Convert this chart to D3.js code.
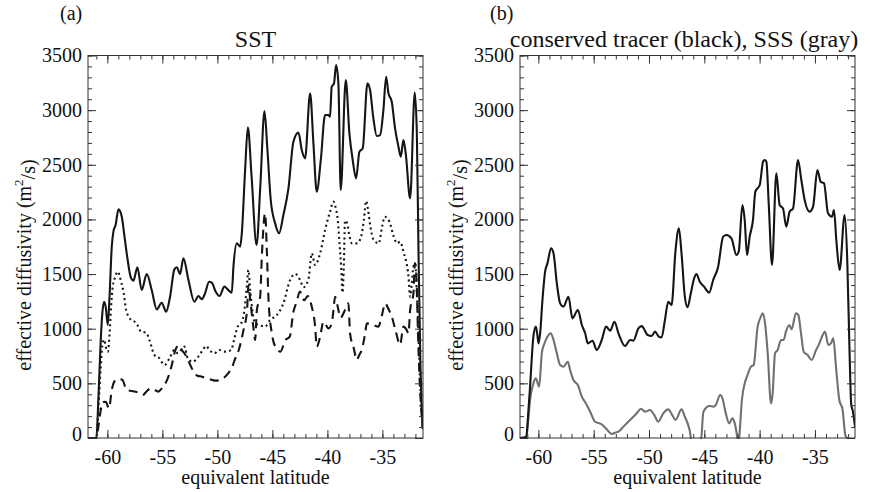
<!DOCTYPE html>
<html><head><meta charset="utf-8">
<script src="https://cdn.jsdelivr.net/npm/d3@7"></script>
<style>
html,body{margin:0;padding:0;background:#fff;}
svg text{font-family:"Liberation Serif","DejaVu Serif",serif;fill:#111;}
</style></head>
<body>
<svg id="chart" width="871" height="492"></svg>
<script>
// ---------------- DATA ----------------
const xMajorTicks = [-60,-55,-50,-45,-40,-35];
const xMinorTicks = d3.range(-61,-31,1);
const yMajorTicks = [0,500,1000,1500,2000,2500,3000,3500];
const yMinorTicks = d3.range(0,3501,100);
const panelLabels = ["(a)","(b)"];
const panelTitles = ["SST","conserved tracer (black), SSS (gray)"];
const xAxisTitle = "equivalent latitude";

// panel (a): SST, solid
const sstSolid = [[-61.75,0],[-61.0,0],[-60.8,400],[-60.6,900],[-60.45,1150],[-60.30,1247],[-60.15,1200],[-59.96,1034],[-59.8,1300],[-59.6,1750],[-59.45,1888],[-59.25,1950],[-58.99,2092],[-58.69,2025],[-58.45,1850],[-58.24,1690],[-57.84,1461],[-57.63,1440],[-57.27,1562],[-56.88,1354],[-56.42,1501],[-55.97,1354],[-55.51,1177],[-55.06,1238],[-54.66,1156],[-54.30,1293],[-53.91,1543],[-53.69,1562],[-53.39,1501],[-53.09,1644],[-52.63,1446],[-52.09,1247],[-51.72,1299],[-51.42,1270],[-51.12,1324],[-50.75,1430],[-50.51,1421],[-50.15,1339],[-49.81,1299],[-49.36,1385],[-49.06,1360],[-48.69,1330],[-48.54,1568],[-48.24,1781],[-47.93,1751],[-47.78,1873],[-47.48,2452],[-47.23,2843],[-46.89,2391],[-46.44,1766],[-46.1,2300],[-45.72,2992],[-45.45,2635],[-45.15,2178],[-44.75,1964],[-44.39,1873],[-44.0,2040],[-43.54,2284],[-43.09,2711],[-42.63,2794],[-42.33,2635],[-42.03,2559],[-41.57,3154],[-41.27,2696],[-40.97,2254],[-40.6,2544],[-40.21,2955],[-39.91,2955],[-39.76,2940],[-39.61,3214],[-39.4,3245],[-39.21,3413],[-39.0,3245],[-38.79,2269],[-38.33,3276],[-38.0,2788],[-37.7,2544],[-37.39,2376],[-37.09,2620],[-36.79,2650],[-36.36,3245],[-36.12,3184],[-35.82,2925],[-35.51,2763],[-35.21,2772],[-34.91,3001],[-34.66,3306],[-34.45,3154],[-34.15,3077],[-33.85,2834],[-33.54,2665],[-33.33,2574],[-33.09,2727],[-32.88,2605],[-32.48,2193],[-32.06,3160],[-31.87,2788],[-31.72,1720],[-31.55,700],[-31.42,250],[-31.33,80]];

// panel (a): dotted
const sstDotted = [[-61.75,0],[-61.0,0],[-60.8,300],[-60.6,650],[-60.45,850],[-60.3,900],[-60.15,836],[-59.95,790],[-59.8,950],[-59.66,1201],[-59.51,1385],[-59.3,1470],[-59.06,1522],[-58.75,1430],[-58.51,1324],[-58.30,1171],[-57.84,1080],[-57.39,1055],[-56.93,973],[-56.48,964],[-56.18,897],[-55.72,759],[-55.27,729],[-54.81,668],[-54.36,729],[-53.90,805],[-53.60,775],[-53.30,805],[-53.0,836],[-52.69,729],[-52.24,698],[-51.78,738],[-51.33,805],[-51.03,842],[-50.72,805],[-50.27,775],[-49.81,805],[-49.36,790],[-48.75,805],[-48.45,912],[-48.15,1019],[-47.84,1049],[-47.54,1171],[-47.30,1415],[-47.18,1537],[-47.0,1330],[-46.8,1150],[-46.57,1049],[-46.1,1030],[-45.66,1019],[-45.2,1080],[-44.6,1125],[-44.0,1232],[-43.39,1446],[-42.93,1501],[-42.48,1446],[-42.18,1379],[-41.72,1455],[-41.42,1690],[-41.12,1583],[-40.66,1690],[-40.21,1903],[-39.76,2071],[-39.45,2163],[-39.27,2117],[-39.06,1995],[-38.9,1781],[-38.75,1568],[-38.62,1330],[-38.5,1600],[-38.4,1990],[-38.2,1964],[-38.0,1850],[-37.76,1781],[-37.3,1781],[-36.9,1857],[-36.69,1995],[-36.48,2169],[-36.3,2086],[-36.09,1933],[-35.79,1812],[-35.33,1781],[-35.03,1933],[-34.79,2025],[-34.36,1979],[-33.97,1842],[-33.66,1781],[-33.39,1796],[-33.09,1705],[-32.63,1476],[-32.48,1293],[-32.33,1415],[-32.18,1568],[-32.03,1598],[-31.87,1324],[-31.72,958],[-31.57,500],[-31.42,226],[-31.33,100]];

// panel (a): dashed
const sstDashed = [[-61.75,0],[-61.0,0],[-60.86,73],[-60.65,226],[-60.4,330],[-60.15,332],[-59.85,271],[-59.6,439],[-59.24,531],[-58.9,540],[-58.63,531],[-58.24,439],[-57.8,430],[-57.45,424],[-57.1,410],[-56.79,393],[-56.4,430],[-56.09,454],[-55.7,440],[-55.39,424],[-55.0,460],[-54.57,531],[-54.18,653],[-53.82,805],[-53.5,850],[-53.2,800],[-52.9,760],[-52.6,698],[-52.15,607],[-51.8,570],[-51.39,561],[-51.0,545],[-50.69,537],[-50.2,525],[-49.72,531],[-49.3,560],[-48.97,598],[-48.66,650],[-48.36,732],[-48.06,805],[-47.78,915],[-47.6,1000],[-47.3,1171],[-47.18,1400],[-47.0,1250],[-46.72,1006],[-46.57,897],[-46.41,1171],[-46.11,1293],[-45.96,1659],[-45.66,2056],[-45.5,1700],[-45.35,1263],[-45.05,958],[-44.73,835],[-44.27,790],[-43.82,896],[-43.42,927],[-43.1,1150],[-42.8,1244],[-42.5,1340],[-42.1,1260],[-41.8,1300],[-41.42,1201],[-41.12,1024],[-40.97,836],[-40.66,927],[-40.36,1064],[-39.9,1003],[-39.6,1049],[-39.45,1171],[-39.3,1293],[-39.1,1220],[-38.8,1100],[-38.4,1171],[-38.09,1232],[-37.94,958],[-37.6,820],[-37.33,714],[-37.1,760],[-36.88,805],[-36.57,958],[-36.42,1049],[-35.82,1034],[-35.36,1019],[-35.05,1120],[-34.75,1232],[-34.45,1180],[-34.15,1113],[-33.8,980],[-33.39,854],[-33.09,1019],[-32.8,990],[-32.63,958],[-32.48,1171],[-32.18,1324],[-32.05,1600],[-31.9,1450],[-31.75,900],[-31.55,400],[-31.33,100]];

// panel (b): conserved tracer (black)
const tracerBlack = [[-61.66,0],[-61.1,10],[-60.9,250],[-60.75,470],[-60.45,927],[-60.23,1019],[-60.1,950],[-59.99,866],[-59.84,958],[-59.63,1263],[-59.39,1522],[-59.18,1598],[-58.85,1736],[-58.63,1690],[-58.33,1415],[-58.03,1232],[-57.73,1202],[-57.28,1293],[-56.92,1095],[-56.43,1171],[-56.07,1034],[-55.77,958],[-55.53,866],[-55.11,890],[-54.72,805],[-54.27,897],[-53.88,1019],[-53.51,982],[-53.12,1064],[-52.76,958],[-52.16,842],[-51.71,897],[-51.41,890],[-50.96,1003],[-50.66,1024],[-50.12,942],[-49.76,933],[-49.46,973],[-49.10,927],[-48.86,921],[-48.56,1080],[-48.26,1247],[-47.96,1217],[-47.6,1720],[-47.3,1918],[-47.06,1690],[-46.76,1293],[-46.52,1196],[-46.22,1324],[-45.92,1461],[-45.71,1500],[-45.41,1430],[-45.02,1385],[-44.56,1330],[-44.20,1446],[-43.75,1568],[-43.3,1842],[-43.0,1857],[-42.55,1827],[-42.1,1674],[-41.89,1705],[-41.56,2132],[-41.35,1995],[-41.14,1674],[-40.9,1842],[-40.6,1995],[-40.39,2254],[-39.99,2315],[-39.69,2528],[-39.54,2544],[-39.39,2528],[-39.18,2147],[-38.88,1583],[-38.49,2422],[-38.19,2132],[-37.89,2101],[-37.59,1934],[-37.29,2071],[-36.98,2101],[-36.53,2544],[-36.23,2361],[-35.93,2178],[-35.48,2071],[-35.17,2117],[-34.78,2452],[-34.48,2345],[-34.18,2330],[-33.82,2056],[-33.46,2025],[-33.28,2086],[-33.07,1812],[-32.77,1537],[-32.32,2040],[-32.08,1629],[-31.87,775],[-31.72,305],[-31.57,244],[-31.38,100]];

// panel (b): SSS (gray)
const sssGray = [[-61.66,0],[-61.1,0],[-60.9,180],[-60.75,348],[-60.45,500],[-60.23,546],[-59.93,470],[-59.69,775],[-59.45,866],[-59.18,927],[-58.88,958],[-58.63,897],[-58.33,775],[-58.03,668],[-57.73,653],[-57.34,698],[-57.13,622],[-56.83,531],[-56.43,485],[-56.07,378],[-55.71,317],[-55.32,241],[-54.87,149],[-54.32,128],[-53.9,88],[-53.36,37],[-53.06,49],[-52.76,58],[-52.31,104],[-51.71,165],[-51.11,226],[-50.72,268],[-50.36,241],[-49.91,256],[-49.52,210],[-49.16,149],[-48.71,226],[-48.26,262],[-47.9,210],[-47.6,165],[-47.06,262],[-46.76,195],[-46.46,119],[-46.25,27],[-46.22,0],[-45.75,-400],[-45.28,0],[-45.1,230],[-44.96,262],[-44.56,293],[-44.17,287],[-43.96,302],[-43.57,393],[-43.36,363],[-43.06,226],[-42.76,134],[-42.46,180],[-42.25,134],[-42.01,0],[-41.93,-100],[-41.85,0],[-41.6,350],[-41.31,515],[-41.15,561],[-40.78,653],[-40.54,668],[-40.18,1019],[-39.88,1110],[-39.73,1141],[-39.51,1049],[-39.27,775],[-38.97,317],[-38.82,409],[-38.61,775],[-38.37,805],[-38.07,897],[-37.83,897],[-37.62,973],[-37.32,1034],[-37.11,995],[-36.72,1141],[-36.5,1125],[-36.26,958],[-36.02,790],[-35.66,759],[-35.3,714],[-34.9,805],[-34.6,866],[-34.3,942],[-34.09,973],[-33.79,851],[-33.55,866],[-33.34,912],[-33.1,653],[-32.8,348],[-32.5,257],[-32.26,27],[-32.11,0],[-31.8,-400],[-31.38,-400]];

// ---------------- LAYOUT ----------------
const svg = d3.select("#chart");
const plotTop = 55.5, plotBottom = 438;
const panels = [
  {x0:88, x1:423, dom:[-61.76,-31.31], labelX:60, titleX:255.5,
   series:[{d:sstSolid, color:"#151515", dash:null},
           {d:sstDotted, color:"#151515", dash:"2,3.2"},
           {d:sstDashed, color:"#151515", dash:"9,6"}]},
  {x0:520, x1:855, dom:[-61.66,-31.38], labelX:490, titleX:684,
   series:[{d:sssGray, color:"#707070", dash:null},
           {d:tracerBlack, color:"#151515", dash:null}]}
];

const y = d3.scaleLinear().domain([0,3500]).range([plotBottom, plotTop]);
const defs = svg.append("defs");

panels.forEach((p,i)=>{
  const x = d3.scaleLinear().domain(p.dom).range([p.x0,p.x1]);
  const g = svg.append("g");
  const cid = "clip"+i;
  defs.append("clipPath").attr("id",cid)
    .append("rect").attr("x",p.x0).attr("y",plotTop-2).attr("width",p.x1-p.x0).attr("height",plotBottom-plotTop+3);

  const line = d3.line().x(d=>x(d[0])).y(d=>y(Math.max(d[1],-60))).curve(d3.curveMonotoneX);
  const lg = g.append("g").attr("clip-path",`url(#${cid})`);
  p.series.forEach(s=>{
    lg.append("path").attr("d",line(s.d)).attr("fill","none")
      .attr("stroke",s.color).attr("stroke-width",2.1)
      .attr("stroke-linejoin","round")
      .attr("stroke-dasharray",s.dash);
  });

  const axStyle = sel=>{
    sel.attr("font-family",null);
    sel.select(".domain").remove();
    sel.selectAll("line").attr("stroke","#333").attr("stroke-width",1);
    sel.selectAll("text").attr("font-size",20).attr("fill","#111");
  };
  const fmt = d=>String(d);
  g.append("g").attr("transform",`translate(0,${plotBottom})`)
    .call(d3.axisBottom(x).tickValues(xMinorTicks).tickSize(-4).tickFormat("")).call(axStyle);
  g.append("g").attr("transform",`translate(0,${plotBottom})`)
    .call(d3.axisBottom(x).tickValues(xMajorTicks).tickSize(-8).tickPadding(12).tickFormat(fmt)).call(axStyle);
  g.append("g").attr("transform",`translate(0,${plotTop})`)
    .call(d3.axisTop(x).tickValues(xMinorTicks).tickSize(-4).tickFormat("")).call(axStyle);
  g.append("g").attr("transform",`translate(0,${plotTop})`)
    .call(d3.axisTop(x).tickValues(xMajorTicks).tickSize(-8).tickFormat("")).call(axStyle);
  g.append("g").attr("transform",`translate(${p.x0},0)`)
    .call(d3.axisLeft(y).tickValues(yMinorTicks).tickSize(-4).tickFormat("")).call(axStyle);
  const la = g.append("g").attr("transform",`translate(${p.x0},0)`)
    .call(d3.axisLeft(y).tickValues(yMajorTicks).tickSize(-8).tickPadding(6).tickFormat(fmt)).call(axStyle);
  la.selectAll(".tick").filter(d=>d===0).select("text").attr("y",-4);
  g.append("g").attr("transform",`translate(${p.x1},0)`)
    .call(d3.axisRight(y).tickValues(yMinorTicks).tickSize(-4).tickFormat("")).call(axStyle);
  g.append("g").attr("transform",`translate(${p.x1},0)`)
    .call(d3.axisRight(y).tickValues(yMajorTicks).tickSize(-8).tickFormat("")).call(axStyle);

  g.append("rect").attr("x",p.x0).attr("y",plotTop).attr("width",p.x1-p.x0).attr("height",plotBottom-plotTop)
    .attr("fill","none").attr("stroke","#333").attr("stroke-width",1);

  g.append("text").attr("x",p.labelX).attr("y",20).attr("font-size",20).text(panelLabels[i]);
  g.append("text").attr("x",p.titleX).attr("y",47).attr("font-size",24).attr("text-anchor","middle").text(panelTitles[i]);
  g.append("text").attr("x",(p.x0+p.x1)/2).attr("y",484).attr("font-size",20).attr("text-anchor","middle").text(xAxisTitle);

  const yl = g.append("text").attr("transform",`translate(${p.x0-64},265) rotate(-90)`)
    .attr("font-size",20).attr("text-anchor","middle").attr("dy","0.35em");
  yl.append("tspan").text("effective diffusivity (m");
  yl.append("tspan").attr("font-size",13).attr("dy","-0.6em").text("2");
  yl.append("tspan").attr("dy","0.6em").text("/s)");
});
</script>
</body></html>
